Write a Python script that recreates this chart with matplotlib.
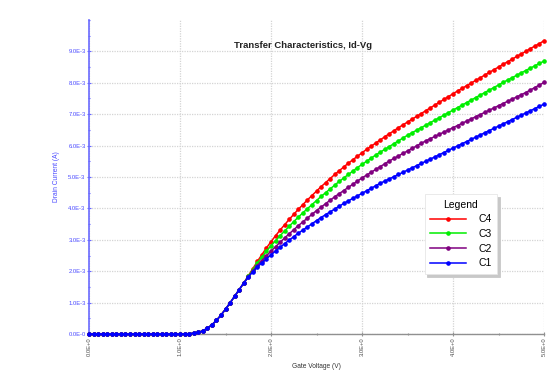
import matplotlib
matplotlib.use("Agg")
import matplotlib.pyplot as plt
from matplotlib.ticker import MultipleLocator

plt.rcParams['font.family'] = ['Liberation Sans', 'DejaVu Sans']

# Gate voltage (V), 0.00 .. 5.00 in 0.05 V steps
gate_voltage = [round(i * 0.05, 2) for i in range(101)]

# Shared part of the curves (0.00 .. 1.70 V), drain current in mA
common_mA = [0.0] * 20 + [
    0.000, 0.003, 0.010, 0.025, 0.050, 0.10, 0.18, 0.29, 0.43, 0.60,
    0.79, 0.99, 1.20, 1.41, 1.62]

# 1.75 .. 5.00 V, drain current in mA
c4_tail = [1.85, 2.08, 2.31, 2.53, 2.74, 2.94, 3.13, 3.31, 3.48, 3.65,
           3.81, 3.97, 4.12, 4.27, 4.41, 4.55, 4.69, 4.82, 4.95, 5.08,
           5.20, 5.32, 5.44, 5.55, 5.66, 5.77, 5.88, 5.98, 6.08, 6.18,
           6.28, 6.38, 6.47, 6.57, 6.66, 6.75, 6.84, 6.93, 7.02, 7.11,
           7.20, 7.29, 7.38, 7.47, 7.56, 7.65, 7.74, 7.82, 7.91, 7.99,
           8.08, 8.16, 8.25, 8.33, 8.42, 8.50, 8.59, 8.67, 8.75, 8.84,
           8.92, 9.00, 9.09, 9.17, 9.25, 9.34]
c3_tail = [1.84, 2.05, 2.26, 2.45, 2.64, 2.81, 2.97, 3.13, 3.28, 3.43,
           3.58, 3.72, 3.86, 3.99, 4.12, 4.25, 4.38, 4.50, 4.62, 4.74,
           4.86, 4.97, 5.08, 5.19, 5.30, 5.40, 5.50, 5.60, 5.70, 5.79,
           5.88, 5.97, 6.06, 6.15, 6.24, 6.33, 6.41, 6.49, 6.57, 6.65,
           6.73, 6.81, 6.89, 6.97, 7.05, 7.13, 7.21, 7.29, 7.37, 7.45,
           7.53, 7.61, 7.69, 7.77, 7.85, 7.93, 8.01, 8.09, 8.16, 8.24,
           8.32, 8.39, 8.47, 8.54, 8.62, 8.69]
c2_tail = [1.82, 2.01, 2.18, 2.34, 2.49, 2.64, 2.78, 2.92, 3.06, 3.19,
           3.32, 3.45, 3.57, 3.69, 3.81, 3.93, 4.04, 4.15, 4.26, 4.37,
           4.47, 4.57, 4.67, 4.77, 4.87, 4.97, 5.06, 5.15, 5.24, 5.33,
           5.42, 5.51, 5.59, 5.67, 5.75, 5.83, 5.91, 5.99, 6.07, 6.15,
           6.22, 6.29, 6.36, 6.43, 6.50, 6.57, 6.64, 6.71, 6.78, 6.85,
           6.92, 6.99, 7.06, 7.13, 7.20, 7.27, 7.34, 7.41, 7.48, 7.55,
           7.62, 7.69, 7.77, 7.85, 7.93, 8.01]
c1_tail = [1.81, 1.98, 2.13, 2.27, 2.40, 2.52, 2.64, 2.76, 2.88, 2.99,
           3.10, 3.21, 3.31, 3.41, 3.51, 3.61, 3.71, 3.80, 3.89, 3.98,
           4.07, 4.16, 4.24, 4.32, 4.40, 4.48, 4.56, 4.64, 4.72, 4.80,
           4.87, 4.94, 5.01, 5.08, 5.15, 5.22, 5.29, 5.36, 5.43, 5.50,
           5.57, 5.64, 5.71, 5.78, 5.85, 5.92, 5.99, 6.06, 6.13, 6.20,
           6.27, 6.34, 6.41, 6.48, 6.55, 6.62, 6.69, 6.76, 6.83, 6.90,
           6.97, 7.04, 7.11, 7.18, 7.25, 7.32]

series_names = ["C4", "C3", "C2", "C1"]
series_colors = ["#ff0000", "#00ee00", "#800080", "#0000ff"]
series_tails = [c4_tail, c3_tail, c2_tail, c1_tail]

y_ticks = [0, 1, 2, 3, 4, 5, 6, 7, 8, 9]
y_tick_labels = ["0.0E-0", "1.0E-3", "2.0E-3", "3.0E-3", "4.0E-3",
                 "5.0E-3", "6.0E-3", "7.0E-3", "8.0E-3", "9.0E-3"]
x_ticks = [0, 1, 2, 3, 4, 5]
x_tick_labels = ["0.0E+0", "1.0E+0", "2.0E+0", "3.0E+0", "4.0E+0", "5.0E+0"]

fig = plt.figure(figsize=(5.55, 3.81), dpi=100)
ax = fig.add_axes([89/555, 1 - 334/381, 455/555, 314/381])

for name, color, tail in zip(series_names, series_colors, series_tails):
    ax.plot(gate_voltage, common_mA + tail, color=color, lw=1.1,
            marker='o', ms=2.3, mec=color, mfc=color, label=name,
            clip_on=False, zorder=3)

ax.set_xlim(0, 5)
ax.set_ylim(0, 10)

ax.set_yticks(y_ticks)
ax.set_yticklabels(y_tick_labels)
ax.set_xticks(x_ticks)
ax.set_xticklabels(x_tick_labels, rotation=90)
ax.yaxis.set_minor_locator(MultipleLocator(0.5))
ax.xaxis.set_minor_locator(MultipleLocator(0.5))

blue_axis = "#6a6aff"
ax.spines['left'].set_color(blue_axis)
ax.spines['left'].set_linewidth(1.2)
ax.spines['bottom'].set_color("#909090")
ax.spines['bottom'].set_linewidth(1.0)
ax.spines['top'].set_visible(False)
ax.spines['right'].set_visible(False)

ax.tick_params(axis='y', which='major', colors=blue_axis, labelcolor="#4a4aff",
               labelsize=4.2, length=3, width=0.8, direction='inout', pad=1)
ax.tick_params(axis='y', which='minor', colors=blue_axis, length=2,
               width=0.8, direction='inout')
ax.tick_params(axis='x', which='major', colors="#909090", labelcolor="#505050",
               labelsize=4.2, length=3, width=0.8, direction='inout', pad=1)
ax.tick_params(axis='x', which='minor', colors="#909090", length=2,
               width=0.8, direction='inout')

ax.grid(True, which='major', color="#d4d4d4", linestyle=(0, (1, 1)),
        linewidth=0.9, zorder=0)
ax.set_axisbelow(True)

ax.set_xlabel("Gate Voltage (V)", fontsize=4.8, color="#333333", labelpad=5)
ax.set_ylabel("Drain Current (A)", fontsize=4.8, color="#4a4aff", labelpad=6)

ax.text(0.47, 0.92, "Transfer Characteristics, Id-Vg", transform=ax.transAxes,
        ha='center', va='center', fontsize=6.8, fontweight='bold',
        color="#222222")

leg = ax.legend(title="Legend", loc='upper left', bbox_to_anchor=(0.726, 0.463),
                fontsize=7.5, title_fontsize=7.5, frameon=True, fancybox=False,
                shadow={'color': '#c8c8c8', 'alpha': 1.0},
                handlelength=3.4, handletextpad=1.2,
                labelspacing=0.45, borderpad=0.55, edgecolor="#e6e6e6",
                framealpha=1)
leg.get_frame().set_linewidth(0.6)

fig.savefig("out.png", dpi=100)
